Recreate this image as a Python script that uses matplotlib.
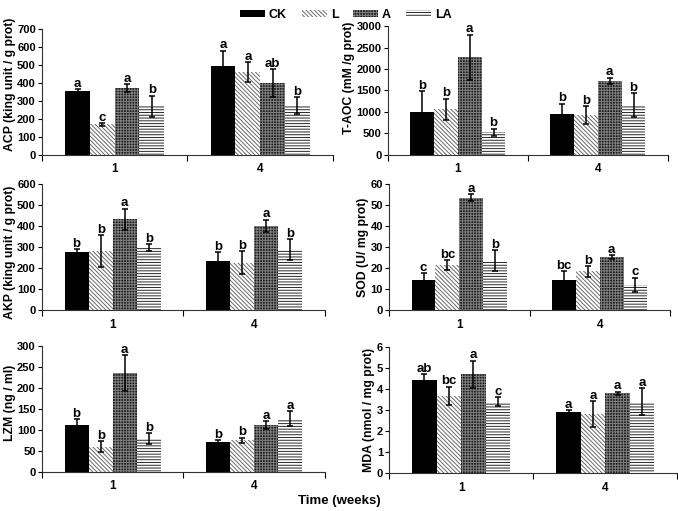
import matplotlib
matplotlib.use("Agg")
import matplotlib.pyplot as plt
from matplotlib.patches import Patch
import numpy as np

plt.rcParams['font.family'] = ['Liberation Sans', 'DejaVu Sans']
plt.rcParams['font.weight'] = 'bold'
plt.rcParams['hatch.linewidth'] = 0.7

weeks = ["1", "4"]
groups = ["CK", "L", "A", "LA"]

# values per group, [week1, week4]
acp = {"CK": [355, 495], "L": [170, 460], "A": [370, 400], "LA": [270, 275]}
acp_err = {"CK": [12, 85], "L": [8, 55], "A": [22, 78], "LA": [60, 45]}
acp_let = {"CK": ["a", "a"], "L": ["c", "a"], "A": ["a", "ab"], "LA": ["b", "b"]}

taoc = {"CK": [1000, 940], "L": [1060, 930], "A": [2270, 1730], "LA": [530, 1160]}
taoc_err = {"CK": [480, 250], "L": [250, 210], "A": [530, 70], "LA": [80, 280]}
taoc_let = {"CK": ["b", "b"], "L": ["b", "b"], "A": ["a", "a"], "LA": ["b", "b"]}

akp = {"CK": [278, 233], "L": [280, 225], "A": [432, 400], "LA": [298, 288]}
akp_err = {"CK": [12, 42], "L": [75, 55], "A": [50, 30], "LA": [15, 48]}
akp_let = {"CK": ["b", "b"], "L": ["b", "b"], "A": ["a", "a"], "LA": ["b", "b"]}

sod = {"CK": [14.5, 14.5], "L": [21.5, 18.5], "A": [53.5, 25.3], "LA": [23.5, 12]}
sod_err = {"CK": [3, 4], "L": [2.3, 2.5], "A": [1.5, 0.8], "LA": [5, 3.5]}
sod_let = {"CK": ["c", "bc"], "L": ["bc", "b"], "A": ["a", "a"], "LA": ["b", "c"]}

lzm = {"CK": [113, 72], "L": [60, 76], "A": [235, 112], "LA": [80, 127]}
lzm_err = {"CK": [13, 4], "L": [13, 6], "A": [43, 10], "LA": [13, 18]}
lzm_let = {"CK": ["b", "b"], "L": ["b", "b"], "A": ["a", "a"], "LA": ["b", "a"]}

mda = {"CK": [4.42, 2.9], "L": [3.67, 2.8], "A": [4.7, 3.8], "LA": [3.4, 3.4]}
mda_err = {"CK": [0.3, 0.1], "L": [0.45, 0.62], "A": [0.65, 0.07], "LA": [0.2, 0.65]}
mda_let = {"CK": ["ab", "a"], "L": ["bc", "a"], "A": ["a", "a"], "LA": ["c", "a"]}

styles = {
    "CK": dict(color="black", edgecolor="black", hatch=None),
    "L": dict(color="white", edgecolor="#6a6a6a", hatch="\\\\\\\\\\\\\\\\"),
    "A": dict(color="#1e1e1e", edgecolor="#808080", hatch="++++++"),
    "LA": dict(color="white", edgecolor="#2a2a2a", hatch="------"),
}

# data, errors, letters, ylabel, ymax, ystep, axes rect, label y
panels = [
    (acp, acp_err, acp_let, "ACP (king unit / g prot)", 700, 100, [0.062, 0.697, 0.429, 0.246], 0.56),
    (taoc, taoc_err, taoc_let, "T-AOC (mM /g prot)", 3000, 500, [0.572, 0.697, 0.413, 0.252], 0.6),
    (akp, akp_err, akp_let, "AKP (king unit / g prot)", 600, 100, [0.062, 0.393, 0.417, 0.247], 0.46),
    (sod, sod_err, sod_let, "SOD (U/ mg prot)", 60, 10, [0.574, 0.393, 0.414, 0.247], 0.5),
    (lzm, lzm_err, lzm_let, "LZM (ng / ml)", 300, 50, [0.062, 0.076, 0.417, 0.247], 0.55),
    (mda, mda_err, mda_let, "MDA (nmol / mg prot)", 6, 1, [0.574, 0.074, 0.425, 0.247], 0.5),
]

fig = plt.figure(figsize=(6.78, 5.11), dpi=100)
w = 0.17
x = np.arange(len(weeks))

for vals, errs, lets, ylab, ymax, ystep, pos, ly in panels:
    ax = fig.add_axes(pos)
    for i, g in enumerate(groups):
        xs = x + (i - 1.5) * w
        st = styles[g]
        ax.bar(xs, vals[g], w, color=st["color"], edgecolor=st["edgecolor"],
               hatch=st["hatch"], linewidth=0)
        ax.errorbar(xs, vals[g], yerr=errs[g], fmt="none", ecolor="black",
                    elinewidth=1.1, capsize=2.5, capthick=1.1)
        for xi, v, e, t in zip(xs, vals[g], errs[g], lets[g]):
            ax.annotate(t, (xi, v + e), xytext=(0, -0.5), textcoords="offset points",
                        ha="center", va="bottom", fontsize=9.5, fontweight="bold")
    ax.set_xlim(-0.5, 1.5)
    ax.set_ylim(0, ymax)
    ax.set_yticks(np.arange(0, ymax + ystep / 2, ystep))
    ax.set_xticks(x)
    ax.set_xticklabels(weeks)
    ax.set_xticks([-0.5, 0.5, 1.5], minor=True)
    ax.tick_params(axis="x", which="major", length=0, pad=6, labelsize=8.5)
    ax.tick_params(axis="x", which="minor", length=4, width=0.8)
    ax.tick_params(axis="y", length=3, width=0.8, labelsize=8, pad=1.5)
    ax.spines["top"].set_visible(False)
    ax.spines["right"].set_visible(False)
    ax.spines["left"].set_color("#333333")
    ax.spines["bottom"].set_color("#333333")
    ax.set_ylabel(ylab, fontsize=8.8, fontweight="bold", labelpad=1)
    ax.yaxis.label.set_y(ly)

handles = [Patch(facecolor=styles[g]["color"], edgecolor=styles[g]["edgecolor"],
                 hatch=styles[g]["hatch"], linewidth=0, label=g) for g in groups]
fig.legend(handles=handles, loc="upper center", bbox_to_anchor=(0.51, 1.005), ncol=4,
           frameon=False, fontsize=9, handlelength=2.0, handleheight=0.45,
           handletextpad=0.3, columnspacing=1.2)

fig.text(0.50, 0.02, "Time (weeks)", ha="center", va="center", fontsize=9.5, fontweight="bold")

fig.savefig("out.png", dpi=100)
